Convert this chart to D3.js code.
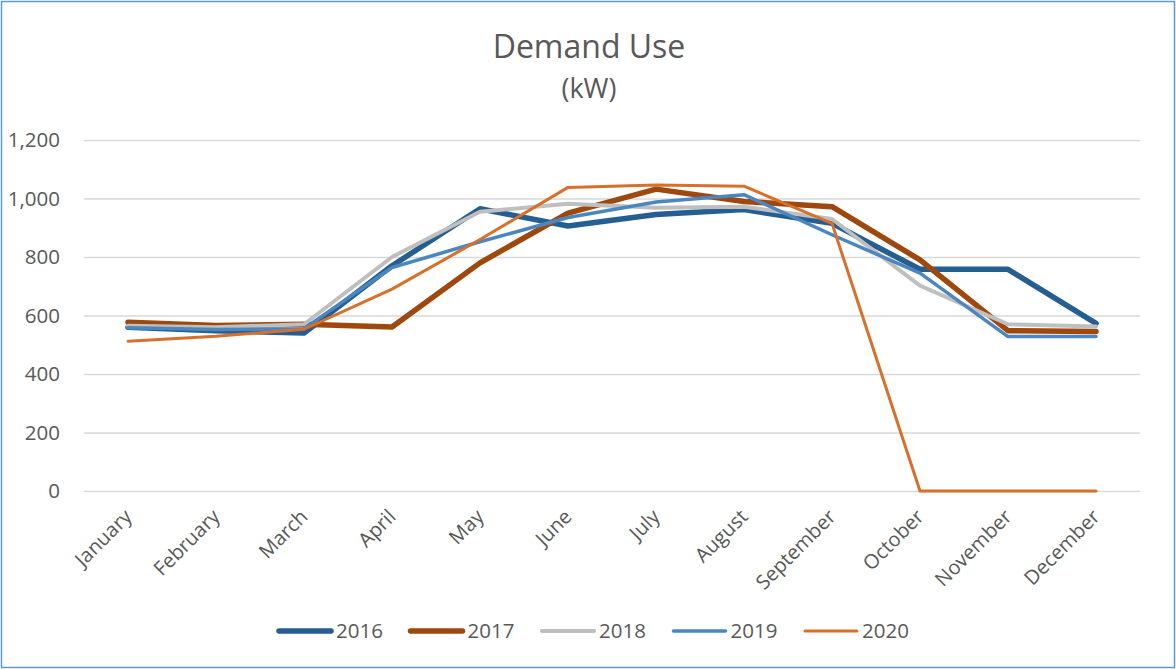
<!DOCTYPE html>
<html>
<head>
<meta charset="utf-8">
<script src="https://cdn.jsdelivr.net/npm/d3@7"></script>
<style>
  html, body { margin: 0; padding: 0; background: #fff; }
  svg text { font-family: "Open Sans", "Noto Sans", sans-serif; fill: #595959; }
</style>
</head>
<body>
<div id="chart"></div>
<script>
// DATA //

const months = [ 'January', 'February', 'March', 'April', 'May', 'June',
	'July', 'August', 'September', 'October', 'November', 'December' ];
const years = [ '2016', '2017', '2018', '2019', '2020' ];
const yTicks = [ 0, 200, 400, 600, 800, 1000, 1200 ];

const demand2016 = [ 560, 548, 540, 770, 965, 906, 945, 962, 915, 758, 758, 573 ];
const demand2017 = [ 577, 566, 570, 561, 780, 950, 1032, 990, 972, 790, 548, 545 ];
const demand2018 = [ 565, 560, 570, 800, 955, 982, 968, 972, 930, 702, 570, 562 ];
const demand2019 = [ 558, 552, 555, 764, 852, 935, 988, 1013, 876, 745, 528, 528 ];
const demand2020 = [ 512, 529, 553, 690, 860, 1038, 1046, 1042, 915, 0, 0, 0 ];

// STYLE //

const colors = [ '#255E91', '#9E480E', '#BFBFBF', '#4A87C1', '#D6702B' ];
const widths = [ 5.5, 5.5, 4, 3.5, 3 ];

// MAIN //

const width = 1176;
const height = 669;
const margin = { top: 140, right: 36, bottom: 178, left: 84 };

const svg = d3.select( '#chart' ).append( 'svg' )
	.attr( 'width', width )
	.attr( 'height', height );

// Outer frame
svg.append( 'rect' )
	.attr( 'x', 1.5 ).attr( 'y', 1.5 )
	.attr( 'width', width - 3 ).attr( 'height', height - 3 )
	.attr( 'fill', '#fff' )
	.attr( 'stroke', '#5B9BD5' )
	.attr( 'stroke-width', 1.5 );

const x = d3.scaleBand()
	.domain( months )
	.range([ margin.left, width - margin.right ]);

const y = d3.scaleLinear()
	.domain([ 0, 1200 ])
	.range([ height - margin.bottom, margin.top ]);

// Title
svg.append( 'text' )
	.attr( 'x', 589 ).attr( 'y', 58 )
	.attr( 'text-anchor', 'middle' )
	.style( 'font-size', '32px' )
	.text( 'Demand Use' );
svg.append( 'text' )
	.attr( 'x', 589 ).attr( 'y', 98 )
	.attr( 'text-anchor', 'middle' )
	.style( 'font-size', '27px' )
	.text( '(kW)' );

// Gridlines + y labels
const yAxis = d3.axisLeft( y )
	.tickValues( yTicks )
	.tickSize( -( width - margin.left - margin.right ) )
	.tickPadding( 24 )
	.tickFormat( d3.format( ',' ) );

const gy = svg.append( 'g' )
	.attr( 'transform', 'translate(' + margin.left + ',0)' )
	.call( yAxis );
gy.select( '.domain' ).remove();
gy.selectAll( '.tick line' )
	.attr( 'stroke', '#D9D9D9' )
	.attr( 'stroke-width', 1.5 );
gy.selectAll( '.tick text' )
	.style( 'font-size', '20.5px' )
	.attr( 'fill', '#595959' );

// X labels, rotated
const xAxis = d3.axisBottom( x ).tickSize( 0 ).tickPadding( 0 );
const gx = svg.append( 'g' )
	.attr( 'transform', 'translate(0,' + ( height - margin.bottom ) + ')' )
	.call( xAxis );
gx.select( '.domain' ).remove();
gx.selectAll( '.tick text' )
	.style( 'font-size', '20px' )
	.attr( 'fill', '#595959' )
	.attr( 'text-anchor', 'end' )
	.attr( 'dy', null )
	.attr( 'transform', 'translate(5,27) rotate(-45)' );

// Lines
const series = [ demand2016, demand2017, demand2018, demand2019, demand2020 ];
const line = d3.line()
	.x( ( d, i ) => x( months[ i ] ) + x.bandwidth() / 2 )
	.y( d => y( d ) );

svg.append( 'g' ).selectAll( 'path' )
	.data( series )
	.enter().append( 'path' )
	.attr( 'd', line )
	.attr( 'fill', 'none' )
	.attr( 'stroke', ( d, i ) => colors[ i ] )
	.attr( 'stroke-width', ( d, i ) => widths[ i ] )
	.attr( 'stroke-linejoin', 'round' )
	.attr( 'stroke-linecap', 'round' );

// Legend
const legend = svg.append( 'g' )
	.attr( 'transform', 'translate(277,631)' );
const item = legend.selectAll( 'g' )
	.data( years )
	.enter().append( 'g' )
	.attr( 'transform', ( d, i ) => 'translate(' + i * 131.5 + ',0)' );
item.append( 'line' )
	.attr( 'x1', 2 ).attr( 'x2', 54 )
	.attr( 'stroke', ( d, i ) => colors[ i ] )
	.attr( 'stroke-width', ( d, i ) => widths[ i ] )
	.attr( 'stroke-linecap', 'round' );
item.append( 'text' )
	.attr( 'x', 59 )
	.attr( 'dy', '0.35em' )
	.style( 'font-size', '20.5px' )
	.text( d => d );
</script>
</body>
</html>
